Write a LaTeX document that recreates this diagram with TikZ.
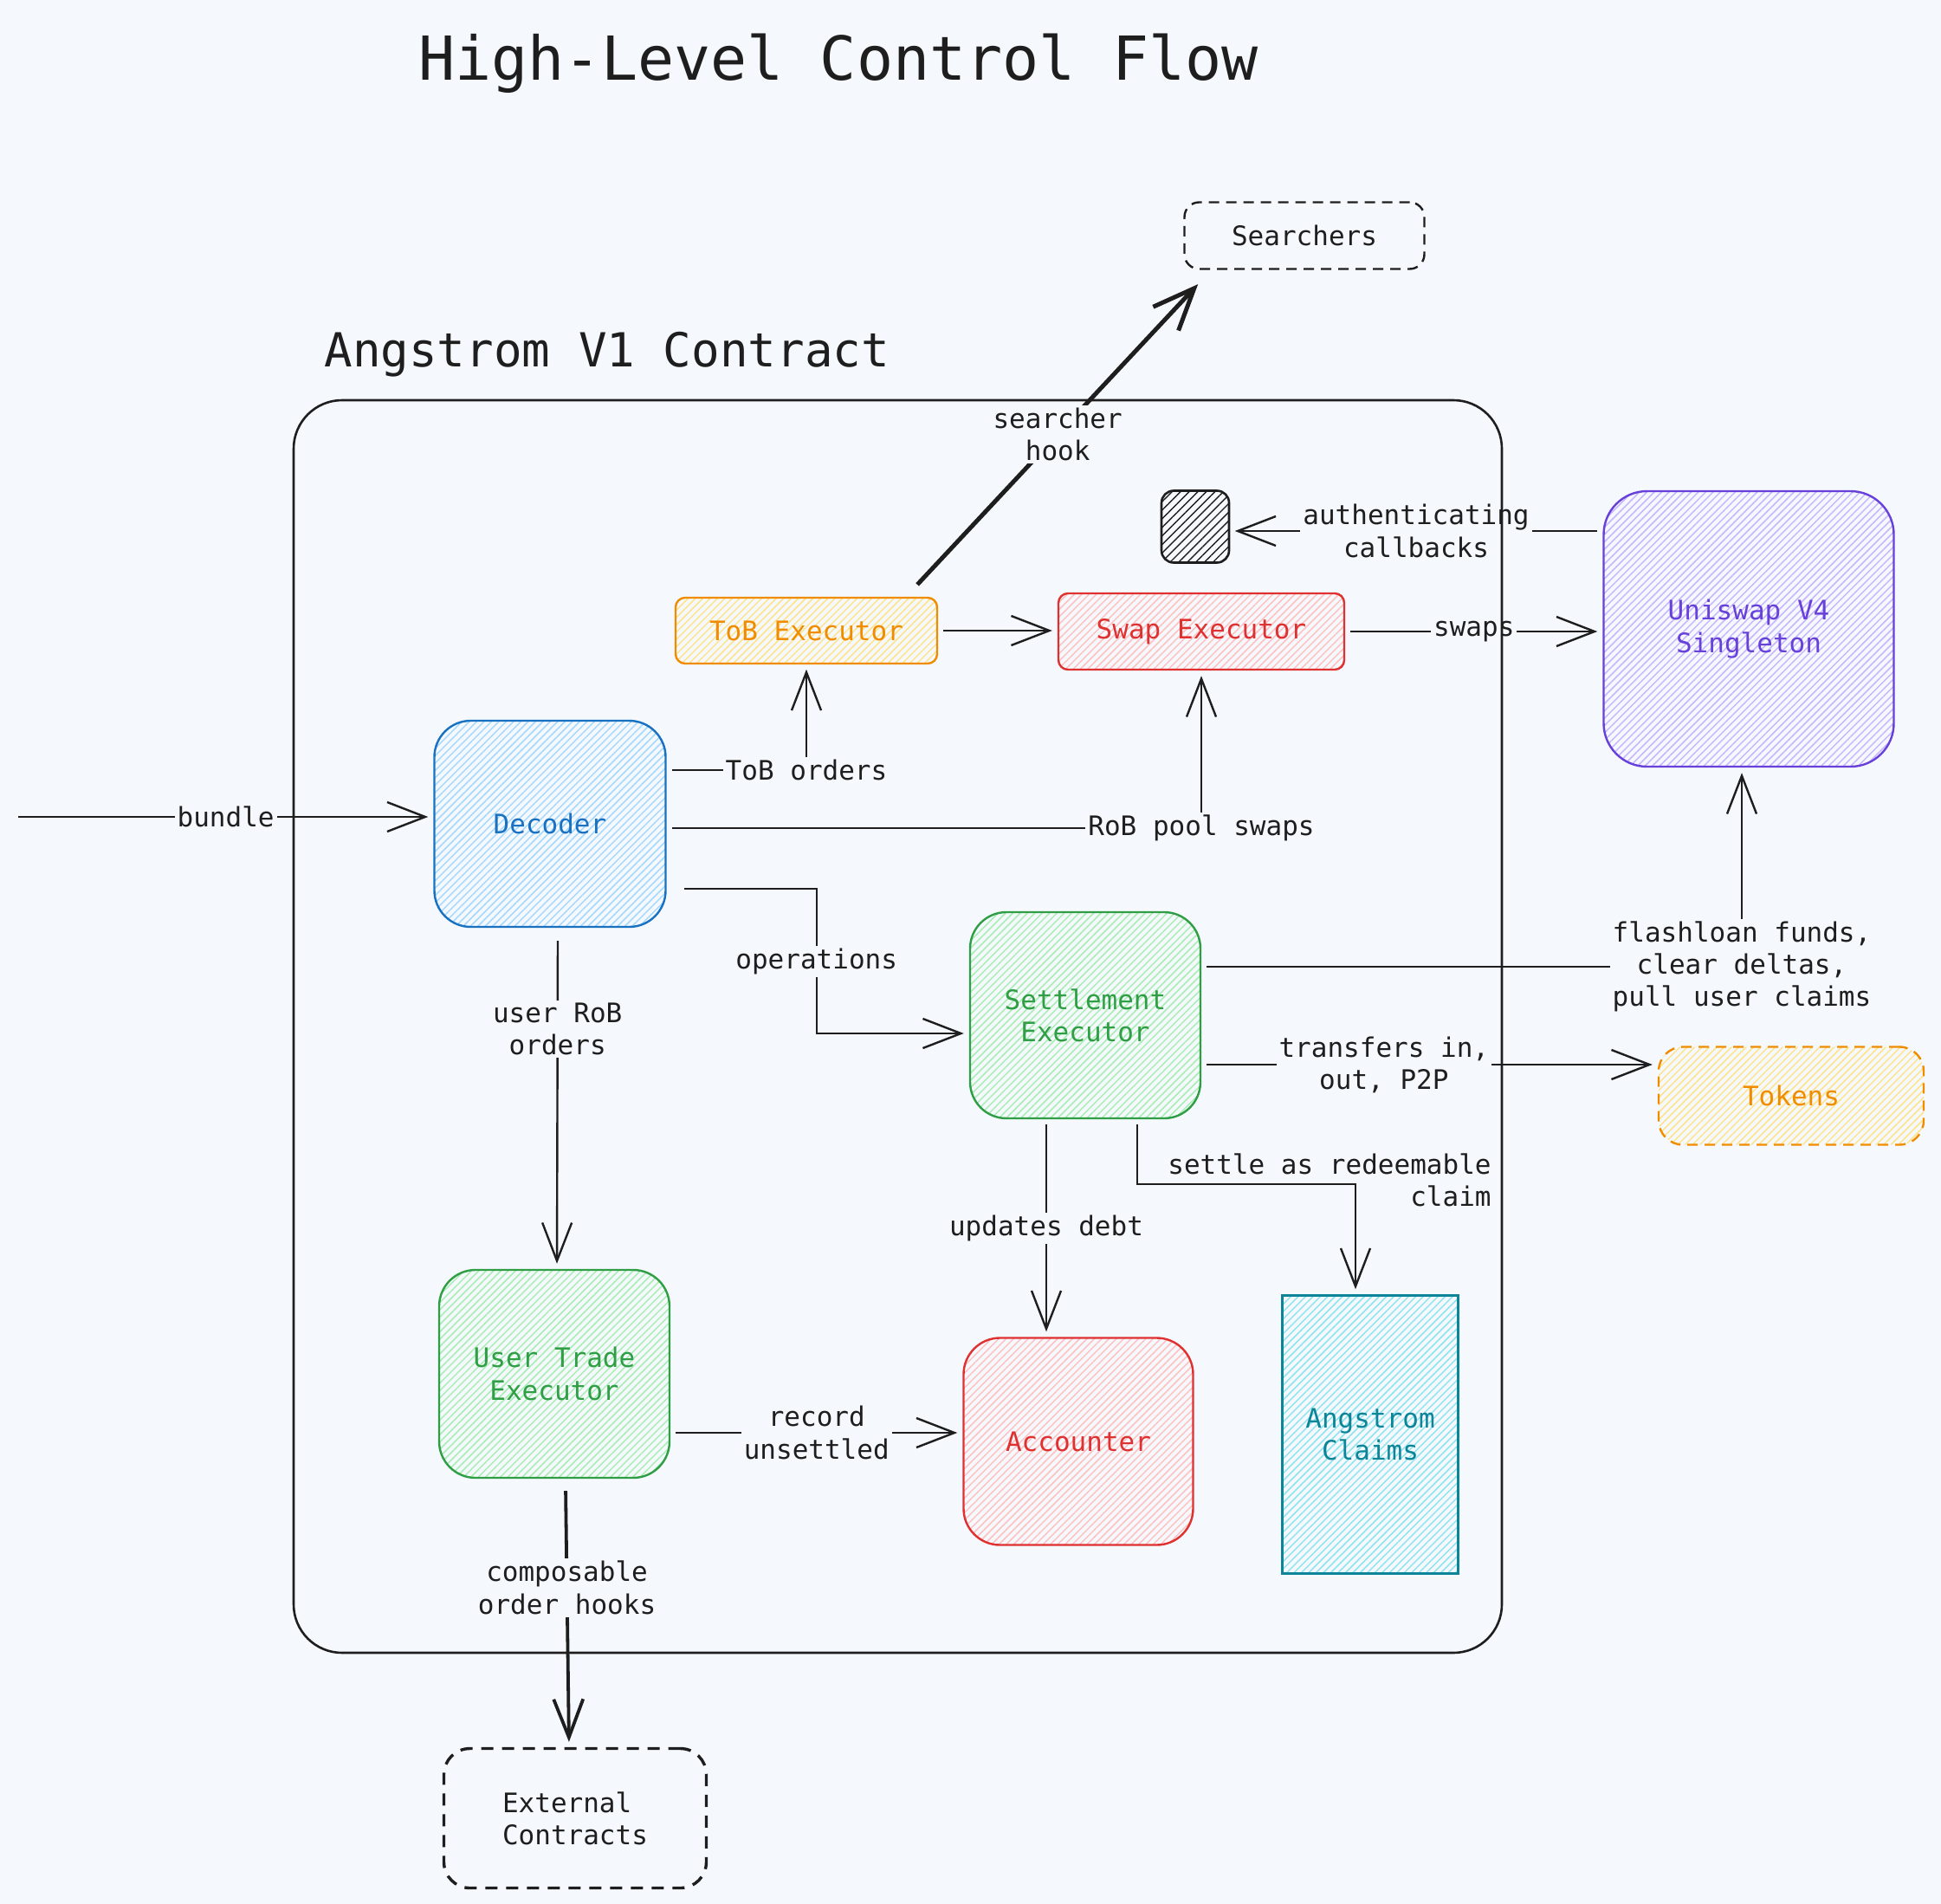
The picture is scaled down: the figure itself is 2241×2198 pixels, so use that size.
\documentclass[tikz,border=0pt]{standalone}
\usepackage{fontspec}
\usetikzlibrary{arrows.meta,patterns.meta}
\newfontfamily\MonoFont{DejaVu Sans Mono}
\definecolor{BgColor}{HTML}{F5F9FD}
\definecolor{Ink}{HTML}{1E1E1E}
\definecolor{BlueStroke}{HTML}{1971C2}
\definecolor{BlueFill}{HTML}{A5D8FF}
\definecolor{OrangeStroke}{HTML}{F08C00}
\definecolor{OrangeFill}{HTML}{FFE38A}
\definecolor{RedStroke}{HTML}{E03131}
\definecolor{RedFill}{HTML}{FFC0C0}
\definecolor{GreenStroke}{HTML}{2F9E44}
\definecolor{GreenFill}{HTML}{A8EDB2}
\definecolor{PurpleStroke}{HTML}{6741D9}
\definecolor{PurpleFill}{HTML}{C8B5FF}
\definecolor{TealStroke}{HTML}{0C8599}
\definecolor{TealFill}{HTML}{8EE4EE}

\begin{document}
\begin{tikzpicture}[
        %Environment Config
        x=0.5pt, y=-0.5pt,
        font=\MonoFont\fontsize{15.5}{18.6}\selectfont,
        FlowArrow/.style={%Style for the connectors
            -{Straight Barb[length=22pt,width=17pt]},
            draw=Ink,
            line width=1.2pt,
            shorten >= 3pt,
            shorten <= 3pt
        },
        Block/.style 2 args={%Style for the hatched boxes
            draw=#1,
            text=#1,
            line width=1.2pt,
            pattern={Lines[angle=45,distance=3pt,line width=0.75pt]},
            pattern color=#2,
            align=center,
            inner sep=0pt
        },
        Ghost/.style={%Style for the dashed outside parties
            draw=#1,
            text=#1,
            dash pattern=on 6pt off 4pt,
            line width=1.2pt,
            align=center,
            inner sep=0pt
        },
        Label/.style={%Style for the connector texts
            fill=BgColor,
            text=Ink,
            align=center,
            inner sep=1.5pt
        }
    ]
    \useasboundingbox (0,0) rectangle (2241,2198);
    \fill[BgColor] (0,0) rectangle (2241,2198);

    %%%%%%%%%%%%%%%%%%%%%%%%%%%%%%%%%%%%%%%%%%%%%%%%%%%%%%%%%%%%%%%%%%%%%%%%%%%%
    % HEADINGS
    %%%%%%%%%%%%%%%%%%%%%%%%%%%%%%%%%%%%%%%%%%%%%%%%%%%%%%%%%%%%%%%%%%%%%%%%%%%%
    \draw (483,93) node[anchor=base west, inner sep=0pt, text=Ink, font=\MonoFont\fontsize{35}{42}\selectfont] (TTL) {High-Level Control Flow};
    \draw (374,424) node[anchor=base west, inner sep=0pt, text=Ink, font=\MonoFont\fontsize{27.1}{32}\selectfont] (CTR) {Angstrom V1 Contract};

    %%%%%%%%%%%%%%%%%%%%%%%%%%%%%%%%%%%%%%%%%%%%%%%%%%%%%%%%%%%%%%%%%%%%%%%%%%%%
    % BLOCKS
    %%%%%%%%%%%%%%%%%%%%%%%%%%%%%%%%%%%%%%%%%%%%%%%%%%%%%%%%%%%%%%%%%%%%%%%%%%%%
    % inside the contract
    \draw (931,728) node[Block={OrangeStroke}{OrangeFill}, minimum width=151pt, minimum height=38pt, rounded corners=5.5pt] (TOB) {ToB Executor};
    \draw (1387,729) node[Block={RedStroke}{RedFill}, minimum width=165pt, minimum height=44pt, rounded corners=5.5pt] (SWP) {Swap Executor};
    \draw (1380,608) node[Block={Ink}{Ink}, line width=1.3pt, pattern={Lines[angle=45,distance=3.5pt,line width=0.7pt]}, minimum width=39pt, minimum height=41.5pt, rounded corners=7pt] (AUTH) {};
    \draw (635,951) node[Block={BlueStroke}{BlueFill}, minimum width=133.5pt, minimum height=119pt, rounded corners=21pt] (DEC) {Decoder};
    \draw (1253,1172) node[Block={GreenStroke}{GreenFill}, minimum width=133pt, minimum height=119pt, rounded corners=21pt] (SETL) {Settlement\\Executor};
    \draw (640,1586) node[Block={GreenStroke}{GreenFill}, minimum width=133pt, minimum height=120pt, rounded corners=21pt] (UTE) {User Trade\\Executor};
    \draw (1245,1664) node[Block={RedStroke}{RedFill}, minimum width=132.5pt, minimum height=119.5pt, rounded corners=21pt] (ACC) {Accounter};
    \draw (1582,1656) node[Block={TealStroke}{TealFill}, minimum width=101.5pt, minimum height=160.5pt] (CLM) {Angstrom\\Claims};

    % outside parties
    \draw (2019,726) node[Block={PurpleStroke}{PurpleFill}, minimum width=167.5pt, minimum height=159pt, rounded corners=25pt] (UNI) {Uniswap V4\\Singleton};
    \draw (2068,1265) node[Ghost=OrangeStroke, pattern={Lines[angle=45,distance=3pt,line width=0.75pt]}, pattern color=OrangeFill, minimum width=153pt, minimum height=56.5pt, rounded corners=14pt] (TOK) {Tokens};
    \draw (1506,272) node[Ghost=Ink, minimum width=138.5pt, minimum height=38.5pt, rounded corners=8.5pt] (SRCH) {Searchers};
    \draw (664,2099) node[Ghost=Ink, line width=1.7pt, dash pattern=on 7pt off 5pt, minimum width=151.5pt, minimum height=80.5pt, rounded corners=15pt, align=left] (EXT) {External\\Contracts};

    %%%%%%%%%%%%%%%%%%%%%%%%%%%%%%%%%%%%%%%%%%%%%%%%%%%%%%%%%%%%%%%%%%%%%%%%%%%%
    % CONNECTORS
    %%%%%%%%%%%%%%%%%%%%%%%%%%%%%%%%%%%%%%%%%%%%%%%%%%%%%%%%%%%%%%%%%%%%%%%%%%%%
    % decoder part
    \coordinate (BIN) at (21,943);
    \draw[FlowArrow, shorten <=0pt] (BIN) -- node[Label] {bundle} (BIN -| DEC.west);
    \draw[FlowArrow] ([yshift=31pt]DEC.east) -| node[Label, pos=0.5] {ToB orders} (TOB.south);
    \draw[FlowArrow] ([yshift=-2.5pt]DEC.east) -| node[Label, pos=0.5] {RoB pool swaps} (SWP.south);
    \draw[FlowArrow] ([xshift=7pt,yshift=-37.5pt]DEC.east) -- ++(159,0) -- node[Label] {operations} ++(0,167) -- ([yshift=-10.5pt]SETL.west);
    \draw[FlowArrow] ([xshift=4.5pt,yshift=-4.5pt]DEC.south) -- node[Label, pos=0.28] {user RoB\\orders} ([xshift=1.5pt]UTE.north);

    % executors
    \draw[FlowArrow, line width=2.5pt, -{Straight Barb[length=24pt,width=20pt]}] ([xshift=62pt,yshift=5pt]TOB.north) -- node[Label] {searcher\\hook} ([xshift=10.5pt,yshift=-6pt]SRCH.south west);
    \draw[FlowArrow] (TOB.east) -- (TOB.east -| SWP.west);
    \draw[FlowArrow] (SWP.east) -- node[Label] {swaps} (SWP.east -| UNI.west);
    \coordinate (CBK) at ([yshift=56.5pt]UNI.west);
    \draw[FlowArrow] (CBK) -- node[Label] {authenticating\\callbacks} (CBK -| AUTH.east);

    % settlement part
    \draw[FlowArrow] ([yshift=28pt]SETL.east) -| node[Label, pos=0.5] {flashloan funds,\\clear deltas,\\pull user claims} ([xshift=-4pt]UNI.south);
    \coordinate (TRF) at ([yshift=-28.5pt]SETL.east);
    \draw[FlowArrow] (TRF) -- node[Label, pos=0.4] {transfers in,\\out, P2P} (TRF -| TOK.west);
    \draw[FlowArrow] ([xshift=-22.5pt]SETL.south) -- node[Label] {updates debt} ([xshift=-18.5pt]ACC.north);
    \draw[FlowArrow] ([xshift=30pt]SETL.south) -- ++(0,75) -| ([xshift=-8.5pt]CLM.north);
    \draw (1722,1362) node[align=right, anchor=east, inner sep=0pt, text=Ink] (SETLTXT) {settle as redeemable\\claim};

    % user trades
    \coordinate (REC) at ([yshift=-34pt]UTE.east);
    \draw[FlowArrow] (REC) -- node[Label] {record\\unsettled} (REC -| ACC.west);
    \draw[FlowArrow, line width=1.9pt] ([xshift=6.5pt,yshift=-4pt]UTE.south) -- node[Label, pos=0.39] {composable\\order hooks} ([xshift=-3.5pt]EXT.north);

    % contract frame
    \draw[Ink, line width=1.3pt, rounded corners=28pt] (339,462) rectangle (1734,1908);
\end{tikzpicture}
\end{document}
